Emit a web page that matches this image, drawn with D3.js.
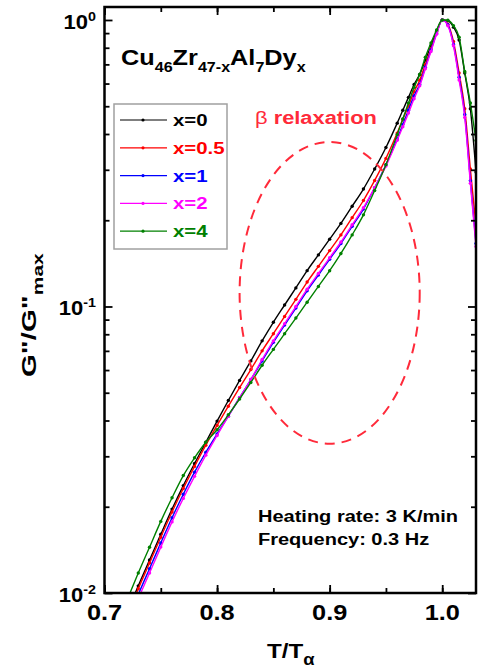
<!DOCTYPE html>
<html>
<head>
<meta charset="utf-8">
<script src="https://cdn.jsdelivr.net/npm/d3@7"></script>
<style>
  html, body { margin: 0; padding: 0; background: #fff; }
  svg { display: block; font-family: "Liberation Sans", Arial, sans-serif; font-weight: bold; }
</style>
</head>
<body>
<svg id="chart" width="478" height="669"></svg>
<script>
'use strict';

// T/T_alpha sample points (shared by all five curves)
const tRatio = [0.72, 0.73, 0.74, 0.75, 0.76, 0.77, 0.78, 0.79, 0.80, 0.81,
  0.82, 0.83, 0.84, 0.85, 0.86, 0.87, 0.88, 0.89, 0.90, 0.91,
  0.92, 0.93, 0.94, 0.95, 0.96, 0.965, 0.97, 0.975, 0.98, 0.985,
  0.99, 0.995, 1.0, 1.005, 1.01, 1.015, 1.02, 1.025, 1.03];

// G''/G''max
const gX0 = [0.00851, 0.01059, 0.01303, 0.01603, 0.01963, 0.02371, 0.02831, 0.03357, 0.03981, 0.04699,
  0.05521, 0.06457, 0.07586, 0.0881, 0.1012, 0.1161, 0.1334, 0.1514, 0.1718, 0.195,
  0.2239, 0.257, 0.302, 0.3589, 0.4365, 0.4842, 0.537, 0.5957, 0.6457, 0.7244,
  0.8128, 0.912, 1.0, 0.993, 0.944, 0.851, 0.653, 0.49, 0.295];
const gX05 = [0.00831, 0.01035, 0.01273, 0.01566, 0.01918, 0.02316, 0.02766, 0.0328, 0.03846, 0.04488,
  0.05212, 0.06024, 0.07002, 0.08035, 0.09229, 0.1059, 0.1217, 0.1381, 0.1567, 0.1778,
  0.2042, 0.2344, 0.2754, 0.3288, 0.4029, 0.4498, 0.501, 0.5623, 0.6166, 0.6998,
  0.7941, 0.902, 1.0, 0.966, 0.841, 0.653, 0.49, 0.302, 0.191];
const gX1 = [0.00794, 0.00988, 0.01216, 0.01496, 0.01831, 0.02212, 0.02641, 0.03099, 0.03591, 0.0414,
  0.04809, 0.05559, 0.06456, 0.07497, 0.08612, 0.0988, 0.1135, 0.1288, 0.1462, 0.1659,
  0.1905, 0.2187, 0.26, 0.3126, 0.3846, 0.4314, 0.4844, 0.5433, 0.596, 0.6838,
  0.7852, 0.8974, 1.0, 0.962, 0.822, 0.631, 0.468, 0.275, 0.166];
const gX2 = [0.00768, 0.00955, 0.01175, 0.01446, 0.01771, 0.02139, 0.02554, 0.03028, 0.03547, 0.0414,
  0.04809, 0.05559, 0.06532, 0.07585, 0.08713, 0.09996, 0.1149, 0.1304, 0.1479, 0.1679,
  0.1928, 0.2213, 0.26, 0.309, 0.3802, 0.4237, 0.4731, 0.5308, 0.5889, 0.6759,
  0.7762, 0.891, 1.0, 0.955, 0.813, 0.617, 0.457, 0.269, 0.162];
const gX4 = [0.00944, 0.01174, 0.01445, 0.01778, 0.02151, 0.0257, 0.02964, 0.03357, 0.03714, 0.04187,
  0.04754, 0.0543, 0.06236, 0.07083, 0.08035, 0.09114, 0.1035, 0.1175, 0.1333, 0.1531,
  0.1778, 0.2089, 0.254, 0.3126, 0.3981, 0.4518, 0.5128, 0.582, 0.6457, 0.7411,
  0.8315, 0.9229, 1.0, 0.998, 0.955, 0.871, 0.661, 0.513, 0.38];

const seriesLabels = ['x=0', 'x=0.5', 'x=1', 'x=2', 'x=4'];
const seriesValues = [gX0, gX05, gX1, gX2, gX4];
const seriesColors = ['#000000', '#ff0000', '#0000ff', '#ff00ff', '#008000'];

const xTickValues = [0.7, 0.8, 0.9, 1.0];
const xTickLabels = ['0.7', '0.8', '0.9', '1.0'];
const yTickValues = [0.01, 0.1, 1];
const yTickExps = ['-2', '-1', '0'];

// beta relaxation ellipse bounds (T/Talpha and G''/G''max)
const betaT = [0.82, 0.98];
const betaG = [0.0332, 0.375];

const svg = d3.select('#chart');
const plotLeft = 104.5, plotRight = 476, plotTop = 7, plotBottom = 593;

const x = d3.scaleLinear().domain([0.7, 1.03]).range([plotLeft, plotRight]);
const y = d3.scaleLog().domain([0.01, 1.11]).range([plotBottom, plotTop]);

// helper: horizontally widened text, the source figure uses a broad bold face
function wideText(g, px, py, sx, size) {
  return g.append('text')
    .attr('transform', `translate(${px},${py}) scale(${sx},1)`)
    .attr('font-size', size);
}

svg.append('defs').append('clipPath').attr('id', 'plotClip')
  .append('rect').attr('x', plotLeft).attr('y', plotTop)
  .attr('width', plotRight - plotLeft).attr('height', plotBottom - plotTop);

// ---- curves
const line = d3.line()
  .x((d, i) => x(tRatio[i]))
  .y(d => y(d))
  .curve(d3.curveMonotoneX);

const plot = svg.append('g').attr('clip-path', 'url(#plotClip)');
seriesValues.forEach((vals, k) => {
  const g = plot.append('g');
  g.append('path')
    .attr('d', line(vals))
    .attr('fill', 'none')
    .attr('stroke', seriesColors[k])
    .attr('stroke-width', 1.4);
  g.selectAll('circle').data(vals).join('circle')
    .attr('cx', (d, i) => x(tRatio[i]))
    .attr('cy', d => y(d))
    .attr('r', 1.7)
    .attr('fill', seriesColors[k]);
});

// ---- axes (ticks inward on all four sides)
const xMinor = d3.range(0.7, 1.031, 0.05);
function tickAxis(axisFn, scale, vals, size) {
  return axisFn(scale).tickValues(vals).tickSize(size).tickFormat('');
}
const axes = svg.append('g');
const yMinor = y.ticks().filter(v => yTickValues.indexOf(v) < 0);

axes.append('g').attr('transform', `translate(0,${plotBottom})`)
  .call(tickAxis(d3.axisBottom, x, xTickValues, -8));
axes.append('g').attr('transform', `translate(0,${plotBottom})`)
  .call(tickAxis(d3.axisBottom, x, xMinor, -5));
axes.append('g').attr('transform', `translate(0,${plotTop})`)
  .call(tickAxis(d3.axisTop, x, xTickValues, -8));
axes.append('g').attr('transform', `translate(0,${plotTop})`)
  .call(tickAxis(d3.axisTop, x, xMinor, -5));
axes.append('g').attr('transform', `translate(${plotLeft},0)`)
  .call(tickAxis(d3.axisLeft, y, yTickValues, -8));
axes.append('g').attr('transform', `translate(${plotLeft},0)`)
  .call(tickAxis(d3.axisLeft, y, yMinor, -5));
axes.append('g').attr('transform', `translate(${plotRight},0)`)
  .call(tickAxis(d3.axisRight, y, yTickValues, -8));
axes.append('g').attr('transform', `translate(${plotRight},0)`)
  .call(tickAxis(d3.axisRight, y, yMinor, -5));
axes.selectAll('.domain').remove();
axes.selectAll('line').attr('stroke', '#000').attr('stroke-width', 1.8);

svg.append('rect')
  .attr('x', plotLeft).attr('y', plotTop)
  .attr('width', plotRight - plotLeft).attr('height', plotBottom - plotTop)
  .attr('fill', 'none').attr('stroke', '#000').attr('stroke-width', 2.5);

// ---- tick labels
xTickValues.forEach((v, i) => {
  wideText(svg, x(v), 620, 1.15, 22).attr('text-anchor', 'middle').text(xTickLabels[i]);
});
yTickValues.forEach((v, i) => {
  const t = wideText(svg, 96, y(v) + 9, 1.1, 20).attr('text-anchor', 'end');
  t.append('tspan').text('10');
  t.append('tspan').attr('font-size', 13).attr('dy', -8).text(yTickExps[i]);
});

// ---- axis titles
const xl = wideText(svg, 267, 658, 1.15, 21);
xl.append('tspan').text('T/T');
xl.append('tspan').attr('font-size', 16).attr('dy', 7).text('α');

const yl = svg.append('text')
  .attr('transform', 'translate(36,377) rotate(-90) scale(1.4,1)')
  .attr('font-size', 21);
yl.append('tspan').text('G"/G"');
yl.append('tspan').attr('font-size', 15).attr('dy', 7).text('max');

// ---- composition label
const titleParts = [['Cu', 0], ['46', 1], ['Zr', 0], ['47-x', 1], ['Al', 0], ['7', 1], ['Dy', 0], ['x', 1]];
const title = wideText(svg, 121, 65, 1.15, 22);
let sub = 0;
titleParts.forEach(([s, isSub]) => {
  const dy = isSub === sub ? 0 : (isSub ? 7 : -7);
  sub = isSub;
  title.append('tspan').attr('dy', dy).attr('font-size', isSub ? 14 : 22).text(s);
});

// ---- legend
const legend = svg.append('g');
legend.append('rect')
  .attr('x', 114).attr('y', 104).attr('width', 113).attr('height', 145)
  .attr('fill', '#fff').attr('stroke', '#a0a0a0').attr('stroke-width', 1.5);
seriesLabels.forEach((lab, k) => {
  const cy = 120 + k * 27.8;
  legend.append('line')
    .attr('x1', 120).attr('x2', 167).attr('y1', cy).attr('y2', cy)
    .attr('stroke', seriesColors[k]).attr('stroke-width', 1.2);
  legend.append('circle').attr('cx', 143).attr('cy', cy).attr('r', 1.6)
    .attr('fill', seriesColors[k]);
  wideText(legend, 173, cy + 6, 1.2, 17).attr('fill', seriesColors[k]).text(lab);
});

// ---- beta relaxation annotation
const betaColor = '#ff2a3a';
svg.append('ellipse')
  .attr('cx', (x(betaT[0]) + x(betaT[1])) / 2)
  .attr('cy', (y(betaG[0]) + y(betaG[1])) / 2)
  .attr('rx', (x(betaT[1]) - x(betaT[0])) / 2)
  .attr('ry', (y(betaG[0]) - y(betaG[1])) / 2)
  .attr('fill', 'none').attr('stroke', betaColor)
  .attr('stroke-width', 2).attr('stroke-dasharray', '10,7');
const bl = wideText(svg, 255, 124, 1.15, 19).attr('fill', betaColor);
bl.append('tspan').attr('font-weight', 'normal').text('β');
bl.append('tspan').text(' relaxation');

// ---- measurement notes
wideText(svg, 258, 522, 1.25, 16).text('Heating rate: 3 K/min');
wideText(svg, 258, 545, 1.25, 16).text('Frequency: 0.3 Hz');
</script>
</body>
</html>
